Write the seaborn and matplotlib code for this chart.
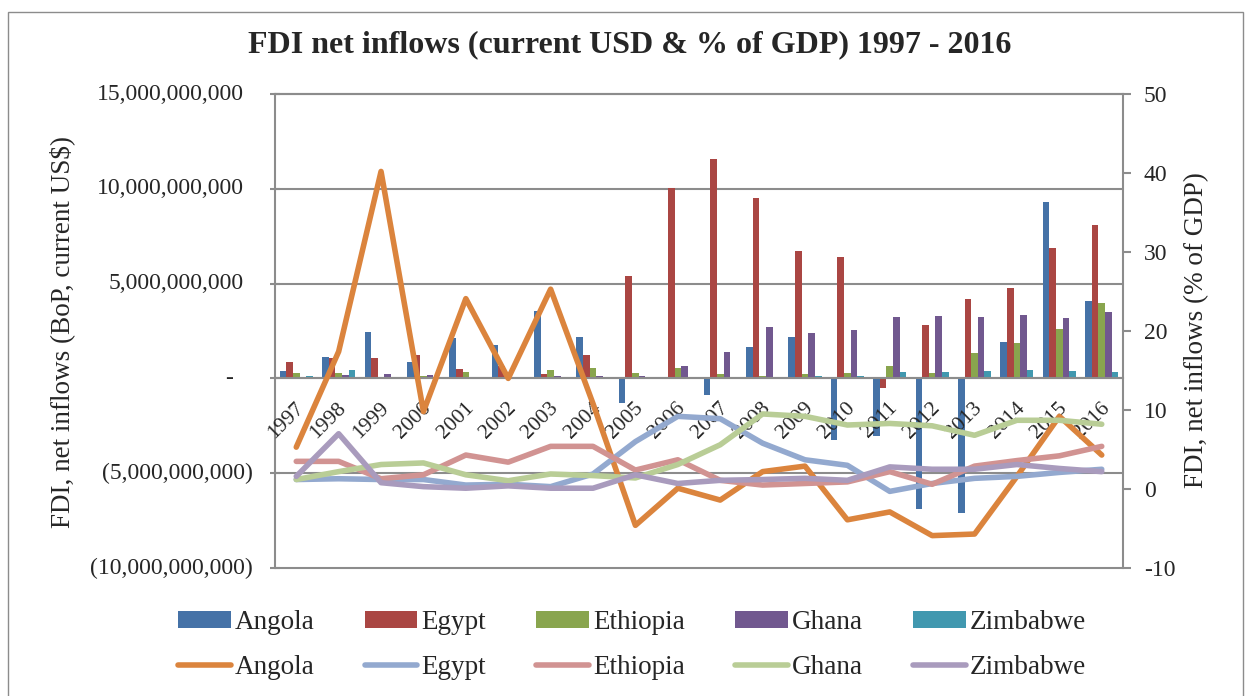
import numpy as np
import pandas as pd
import matplotlib
matplotlib.use("Agg")
import matplotlib.pyplot as plt
import matplotlib.transforms as mtransforms
from matplotlib.patches import Rectangle, Patch
from matplotlib.lines import Line2D
import seaborn as sns

# ---- data ----
years = [str(y) for y in range(1997, 2017)]
countries = ["Angola", "Egypt", "Ethiopia", "Ghana", "Zimbabwe"]

# FDI net inflows, BoP, current US$ (billions)
angola_usd = [0.41, 1.11, 2.47, 0.88, 2.15, 1.74, 3.58, 2.20, -1.30, -0.04,
              -0.89, 1.68, 2.21, -3.23, -3.02, -6.90, -7.12, 1.92, 9.28, 4.10]
egypt_usd = [0.89, 1.07, 1.07, 1.24, 0.51, 0.65, 0.24, 1.25, 5.38, 10.04,
             11.58, 9.49, 6.71, 6.39, -0.48, 2.80, 4.19, 4.78, 6.89, 8.11]
ethiopia_usd = [0.29, 0.26, 0.07, 0.13, 0.35, 0.26, 0.47, 0.55, 0.27, 0.55,
                0.22, 0.11, 0.22, 0.29, 0.63, 0.28, 1.34, 1.85, 2.63, 3.99]
ghana_usd = [0.08, 0.17, 0.24, 0.17, 0.09, 0.06, 0.14, 0.14, 0.15, 0.64,
             1.38, 2.71, 2.37, 2.53, 3.22, 3.29, 3.23, 3.36, 3.19, 3.49]
zimbabwe_usd = [0.14, 0.44, 0.06, 0.02, 0.004, 0.03, 0.004, 0.009, 0.10, 0.04,
                0.07, 0.05, 0.105, 0.12, 0.34, 0.35, 0.37, 0.47, 0.40, 0.34]

# FDI net inflows, % of GDP
angola_pct = [5.3, 17.4, 40.2, 9.8, 24.1, 14.0, 25.3, 10.8, -4.6, 0.1,
              -1.4, 2.2, 2.9, -3.9, -2.9, -5.9, -5.7, 1.6, 9.2, 4.3]
egypt_pct = [1.2, 1.3, 1.2, 1.2, 0.5, 0.6, 0.3, 1.9, 6.0, 9.2,
             8.9, 5.8, 3.7, 3.0, -0.3, 0.7, 1.35, 1.6, 2.1, 2.5]
ethiopia_pct = [3.5, 3.5, 1.3, 1.8, 4.3, 3.4, 5.4, 5.4, 2.4, 3.7,
                1.1, 0.5, 0.7, 0.9, 2.2, 0.6, 2.9, 3.6, 4.2, 5.4]
ghana_pct = [1.2, 2.2, 3.1, 3.3, 1.8, 1.05, 1.9, 1.7, 1.4, 3.1,
             5.6, 9.5, 9.2, 8.1, 8.3, 8.0, 6.8, 8.7, 8.7, 8.2]
zimbabwe_pct = [1.6, 7.0, 0.8, 0.3, 0.1, 0.4, 0.1, 0.1, 1.8, 0.7,
                1.1, 1.2, 1.35, 1.1, 2.8, 2.5, 2.5, 3.1, 2.6, 2.2]

left_ticks = [-10e9, -5e9, 0, 5e9, 10e9, 15e9]
left_labels = ["(10,000,000,000)", "(5,000,000,000)", "-",
               "5,000,000,000", "10,000,000,000", "15,000,000,000"]
right_ticks = [-10, 0, 10, 20, 30, 40, 50]
right_labels = ["-10", "0", "10", "20", "30", "40", "50"]

bar_colors = ["#4572A7", "#AA4643", "#89A54E", "#71588F", "#4198AF"]
line_colors = ["#DB843D", "#93A9CF", "#D19392", "#B9CD96", "#A99BBD"]
grey = "#8C8C8C"

# long-form tables
usd = [angola_usd, egypt_usd, ethiopia_usd, ghana_usd, zimbabwe_usd]
pct = [angola_pct, egypt_pct, ethiopia_pct, ghana_pct, zimbabwe_pct]
bars_df = pd.DataFrame({
    "Year": years * 5,
    "Country": np.repeat(countries, len(years)),
    "USD": np.concatenate(usd) * 1e9,
})
lines_df = pd.DataFrame({
    "pos": list(range(len(years))) * 5,
    "Country": np.repeat(countries, len(years)),
    "pct": np.concatenate(pct),
})

sns.set_style("white")
plt.rcParams["font.family"] = ["Liberation Serif", "DejaVu Serif"]

fig = plt.figure(figsize=(12.48, 6.96), dpi=100)
ax = fig.add_axes([0.2204, 0.1839, 0.6794, 0.6810])

sns.barplot(data=bars_df, x="Year", y="USD", hue="Country", order=years,
            hue_order=countries, palette=bar_colors, saturation=1,
            width=0.78, linewidth=0, errorbar=None, legend=False, ax=ax)

ax.set_xlim(-0.5, 19.5)
ax.set_ylim(-10e9, 15e9)
ax.set_xlabel("")
ax.set_ylabel("")
ax.set_axisbelow(True)
ax.yaxis.grid(True, color=grey, lw=1.5)
for gl in ax.get_ygridlines():
    gl.set_clip_on(False)
ax.set_yticks(left_ticks)
ax.tick_params(axis="y", direction="inout", length=7, width=1.5, color=grey,
               labelleft=False)
# accounting style labels: positives padded, zero shown as a dash
for v, lab in zip(left_ticks, left_labels):
    shift = -9 if v > 0 else (-20 if v == 0 else 0)
    off = mtransforms.ScaledTranslation((-22 + shift) / 100, 0, fig.dpi_scale_trans)
    ax.text(0, v, lab, transform=ax.get_yaxis_transform() + off,
            ha="right", va="center", fontsize=17)

# category axis sits on zero
ax.spines["bottom"].set_position(("data", 0))
for s in ["bottom", "left", "top"]:
    ax.spines[s].set_color(grey)
    ax.spines[s].set_linewidth(1.5)
ax.spines["right"].set_visible(False)
ax.set_xticks(np.arange(-0.5, 20, 1))
ax.set_xticklabels([])
ax.tick_params(axis="x", which="major", direction="out", length=5, width=1.5,
               color=grey)
# rotated year labels, ending just under the zero line
year_off = mtransforms.ScaledTranslation(5 / 100, -27 / 100, fig.dpi_scale_trans)
for i, yr in enumerate(years):
    ax.text(i, 0, yr, transform=ax.transData + year_off, rotation=45,
            ha="right", va="center", rotation_mode="anchor", fontsize=15.5)

# % of GDP lines on the secondary axis
ax2 = ax.twinx()
sns.lineplot(data=lines_df, x="pos", y="pct", hue="Country",
             hue_order=countries, palette=line_colors, lw=4, legend=False,
             solid_joinstyle="round", solid_capstyle="round", ax=ax2)
ax2.set_ylim(-10, 50)
ax2.set_xlim(-0.5, 19.5)
ax2.set_xlabel("")
ax2.set_ylabel("")
ax2.set_yticks(right_ticks, labels=right_labels)
ax2.tick_params(axis="y", direction="out", length=6, width=1.5, color=grey,
                labelsize=17, pad=9)
for s in ["top", "bottom", "left"]:
    ax2.spines[s].set_visible(False)
ax2.spines["right"].set_color(grey)
ax2.spines["right"].set_linewidth(1.5)

# titles
fig.text(630 / 1248, 1 - 45 / 696, "FDI net inflows (current USD & % of GDP) 1997 - 2016",
         ha="center", va="center", fontsize=23, fontweight="bold")
fig.text(62 / 1248, 1 - 332 / 696, "FDI, net inflows (BoP, current US$)",
         rotation=90, ha="center", va="center", fontsize=19.5)
fig.text(1197 / 1248, 1 - 330 / 696, "FDI, net inflows (% of GDP)",
         rotation=90, ha="center", va="center", fontsize=19.5)

# legend: bars on the first row, lines on the second
handles, labels = [], []
for c, bc, lc in zip(countries, bar_colors, line_colors):
    handles.append(Patch(facecolor=bc, edgecolor="none"))
    labels.append(c)
    handles.append(Line2D([], [], color=lc, lw=4, solid_capstyle="round"))
    labels.append(c)
fig.legend(handles, labels, ncol=5, loc="center",
           bbox_to_anchor=(632 / 1248, 1 - 645 / 696), frameon=False,
           fontsize=19.5, handlelength=1.95, handleheight=0.6,
           handletextpad=0.15, columnspacing=1.85, labelspacing=0.72)

# chart area border
fig.add_artist(Rectangle((8 / 1248, -0.01), (1243 - 8) / 1248, 1 - 12 / 696 + 0.01,
                         transform=fig.transFigure, fill=False, ec=grey, lw=1))

fig.savefig("out.png", dpi=100)
